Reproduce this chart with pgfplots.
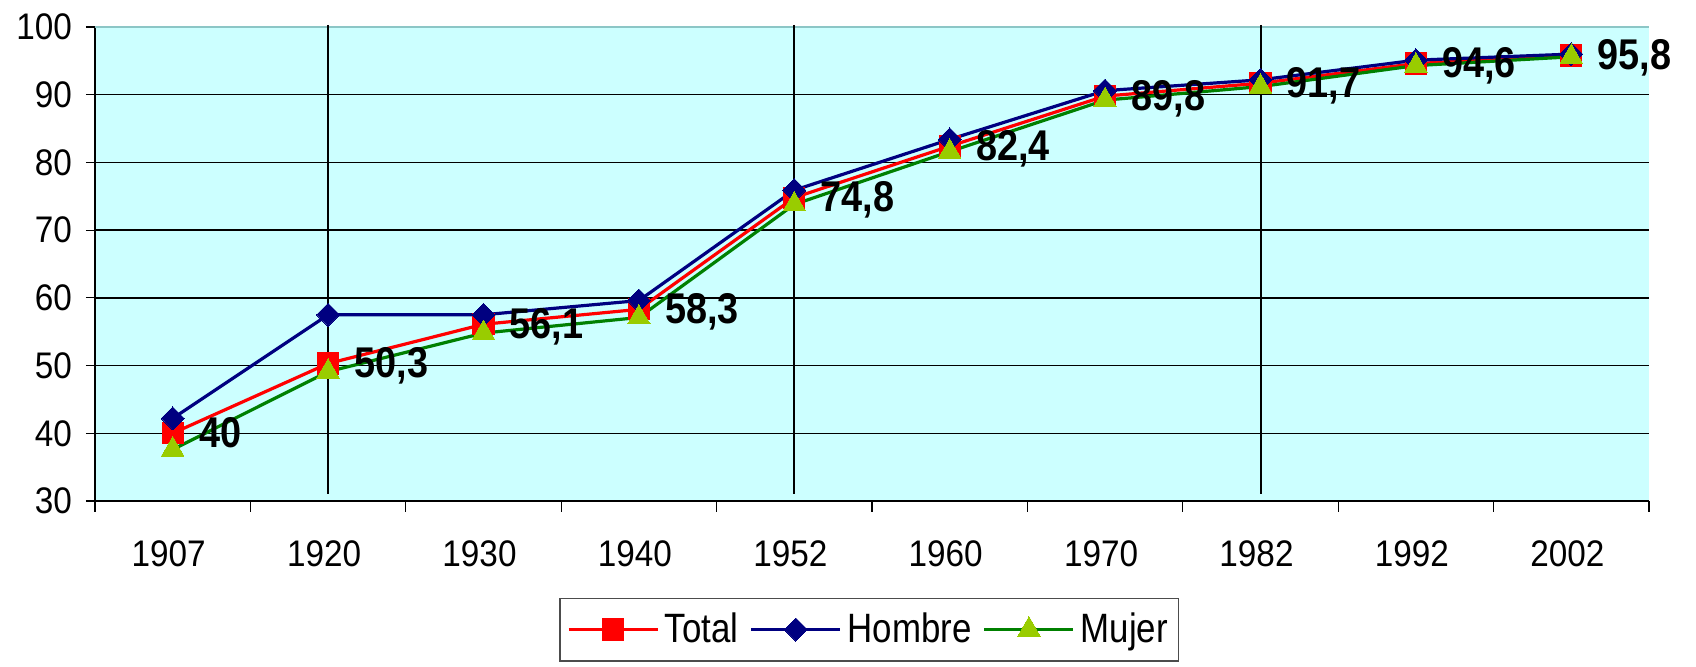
\documentclass[border=0pt]{standalone}
\usepackage{fontspec}
\setmainfont{Liberation Sans}
\newfontfamily\tickfont[FakeStretch=0.9]{Liberation Sans}
\newfontfamily\labfont[FakeStretch=0.88]{Liberation Sans}
\newfontfamily\legfont[FakeStretch=0.85]{Liberation Sans}
\usepackage{pgfplots}
\pgfplotsset{compat=1.18}

\definecolor{plotbg}{HTML}{CCFFFF}
\definecolor{totred}{HTML}{FF0000}
\definecolor{hombrenavy}{HTML}{000080}
\definecolor{mujergreen}{HTML}{008000}
\definecolor{mujerfill}{HTML}{99CC00}
\definecolor{topline}{HTML}{8CC6C6}

\begin{document}
\begin{tikzpicture}
\path[use as bounding box] (-47.5pt,-83pt) rectangle (800.5pt,250.5pt);
\begin{axis}[
  at={(0pt,0pt)}, anchor=south west,
  scale only axis,
  width=777pt, height=237pt,
  clip=false,
  xmin=-0.5, xmax=9.5,
  ymin=30, ymax=100,
  axis background/.style={fill=plotbg},
  axis x line*=bottom, axis y line*=left,
  axis line style={black, line width=0.6pt},
  tick align=outside,
  xtick={0,...,9},
  xticklabels={1907,1920,1930,1940,1952,1960,1970,1982,1992,2002},
  minor xtick={-0.5,0.5,...,9.5},
  major x tick style={draw=none},
  minor x tick style={black, line width=0.6pt},
  minor tick length=5.5pt,
  major tick length=4.5pt,
  ytick={30,40,...,100},
  y tick style={black, line width=0.6pt},
  ymajorgrids,
  grid style={black, line width=0.65pt},
  /pgf/number format/assume math mode=true,
  xticklabel style={font=\tickfont\fontsize{18.5}{20}\selectfont, yshift=-12pt, xshift=-2pt},
  yticklabel style={font=\tickfont\fontsize{18.5}{20}\selectfont, xshift=-3.5pt},
  legend style={at={(0.2988,-0.2039)}, anchor=north west,
    draw=black!70, line width=0.6pt, fill=white,
    font=\legfont\fontsize{20.5}{22}\selectfont,
    inner xsep=3.5pt, inner ysep=5.5pt,
    nodes={inner sep=2pt},
    /tikz/every odd column/.append style={column sep=0.8pt},
    /tikz/every even column/.append style={column sep=3.7pt}},
  legend columns=3,
  legend image code/.code={\draw[mark repeat=2,mark phase=2]
    plot coordinates {(0pt,0pt) (22.25pt,0pt) (44.5pt,0pt)};},
]

% top edge of the plot area in a lighter tone
\draw[topline, line width=0.8pt] (rel axis cs:0,1) -- (rel axis cs:1,1);

% census separators
\draw[black, line width=1pt] (axis cs:1,100.3) -- (axis cs:1,31);
\draw[black, line width=1pt] (axis cs:4,100.3) -- (axis cs:4,31);
\draw[black, line width=1pt] (axis cs:7,100.3) -- (axis cs:7,31);

% Total
\addplot[color=totred, line width=1.6pt, mark=square*, mark size=4.75pt,
  mark options={solid, fill=totred, draw=totred}] coordinates {
  (0,40) (1,50.3) (2,56.1) (3,58.3) (4,74.8)
  (5,82.4) (6,89.8) (7,91.7) (8,94.6) (9,95.8)
};
\addlegendentry{Total}

% Hombre
\addplot[color=hombrenavy, line width=1.6pt, mark=square*, mark size=4.07pt,
  mark options={solid, rotate=45, fill=hombrenavy, draw=hombrenavy, line width=0pt}] coordinates {
  (0,42.2) (1,57.5) (2,57.5) (3,59.6) (4,75.9)
  (5,83.4) (6,90.6) (7,92.2) (8,95.1) (9,96.0)
};
\addlegendentry{Hombre}

% Mujer
\addplot[color=mujergreen, line width=1.6pt, mark=triangle*, mark size=6.5pt,
  mark options={solid, fill=mujerfill, draw=mujerfill, line width=0pt}] coordinates {
  (0,37.6) (1,49.1) (2,54.8) (3,57.1) (4,73.8)
  (5,81.6) (6,89.2) (7,91.2) (8,94.3) (9,95.6)
};
\addlegendentry{Mujer}

% data labels of the Total series
\addplot[draw=none, forget plot, point meta=explicit symbolic,
  nodes near coords,
  every node near coord/.append style={anchor=base west, inner sep=0pt,
    xshift=13pt, yshift=-7pt,
    font=\labfont\bfseries\fontsize{21.5}{23}\selectfont, text=black}] coordinates {
  (0,40)[40] (1,50.3)[50,3] (2,56.1)[56,1] (3,58.3)[58,3] (4,74.8)[74,8]
  (5,82.4)[82,4] (6,89.8)[89,8] (7,91.7)[91,7] (8,94.6)[94,6] (9,95.8)[95,8]
};

\end{axis}
\end{tikzpicture}
\end{document}
